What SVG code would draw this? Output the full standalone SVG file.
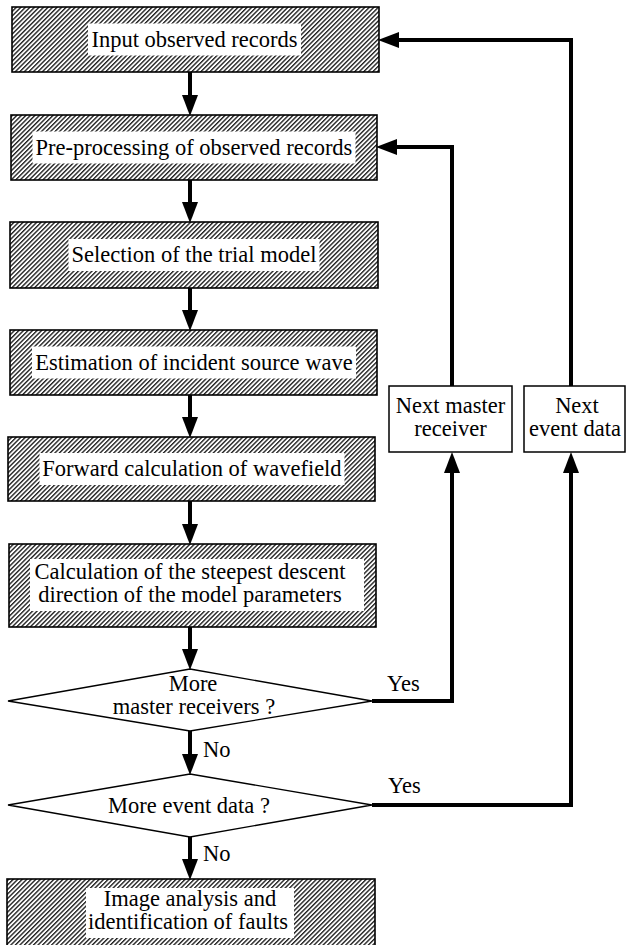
<svg xmlns="http://www.w3.org/2000/svg" width="626" height="945" viewBox="0 0 626 945">
<style>
  .box { fill: url(#hatch); stroke: #000; stroke-width: 1.6; }
  .plain { fill: #fff; stroke: #000; stroke-width: 1.5; }
  .dia { fill: #fff; stroke: #000; stroke-width: 1.3; }
  .bg { fill: #fff; }
  text { font-family: "Liberation Serif", "Times New Roman", serif; font-size: 22.5px; fill: #000; }
  .c { text-anchor: middle; }
  .conn { fill: none; stroke: #000; stroke-width: 4; stroke-linejoin: miter; }
  .arr { marker-end: url(#head); }
</style>
<defs>
  <pattern id="hatch" patternUnits="userSpaceOnUse" width="3.2" height="3.2" patternTransform="rotate(45)">
    <rect width="3.2" height="3.2" fill="#fff"/>
    <line x1="0.7" y1="0" x2="0.7" y2="3.2" stroke="#111" stroke-width="1.3"/>
  </pattern>
  <marker id="head" markerUnits="userSpaceOnUse" markerWidth="22" markerHeight="16" refX="10" refY="8" orient="auto" viewBox="0 0 22 16">
    <path d="M0,0 L21,8 L0,16 z" fill="#000"/>
  </marker>
</defs>

<g id="n1">
  <rect class="box" x="12" y="7" width="367" height="65"/>
  <rect class="bg" x="88" y="23.5" width="213" height="32"/>
  <text class="c" x="194.5" y="47">Input observed records</text>
</g>
<g id="n2">
  <rect class="box" x="11" y="115" width="366" height="65"/>
  <rect class="bg" x="32.5" y="131.5" width="323" height="32"/>
  <text class="c" x="194" y="155">Pre-processing of observed records</text>
</g>
<g id="n3">
  <rect class="box" x="10" y="222" width="368" height="66"/>
  <rect class="bg" x="68.5" y="239" width="251" height="32"/>
  <text class="c" x="194" y="262">Selection of the trial model</text>
</g>
<g id="n4">
  <rect class="box" x="10" y="330" width="367" height="65"/>
  <rect class="bg" x="32" y="346.5" width="324" height="32"/>
  <text class="c" x="194" y="370">Estimation of incident source wave</text>
</g>
<g id="n5">
  <rect class="box" x="8" y="437" width="367" height="64"/>
  <rect class="bg" x="39.5" y="453" width="305" height="32"/>
  <text class="c" x="192" y="476">Forward calculation of wavefield</text>
</g>
<g id="n6">
  <rect class="box" x="9" y="544" width="367" height="83"/>
  <rect class="bg" x="30" y="559" width="334" height="52"/>
  <text class="c" x="190" y="579">Calculation of the steepest descent</text>
  <text class="c" x="190" y="602">direction of the model parameters</text>
</g>
<g id="d1">
  <polygon class="dia" points="190,669 372,701 190,731 8,701"/>
  <text class="c" x="193" y="691">More</text>
  <text class="c" x="194" y="714">master receivers ?</text>
</g>
<g id="d2">
  <polygon class="dia" points="190,774 372,805 190,837 8,805"/>
  <text class="c" x="189" y="813">More event data ?</text>
</g>
<g id="n7">
  <rect class="box" x="7" y="879" width="368" height="70"/>
  <rect class="bg" x="86" y="888" width="208" height="50"/>
  <text class="c" x="190" y="906">Image analysis and</text>
  <text class="c" x="188" y="929">identification of faults</text>
</g>
<g id="r1">
  <rect class="plain" x="389" y="386" width="123" height="66"/>
  <text class="c" x="450.5" y="413">Next master</text>
  <text class="c" x="450.5" y="436">receiver</text>
</g>
<g id="r2">
  <rect class="plain" x="524" y="386" width="101" height="66"/>
  <text class="c" x="577" y="413">Next</text>
  <text class="c" x="575" y="436">event data</text>
</g>

<g id="connectors">
  <path class="conn arr" d="M190,72 V105"/>
  <path class="conn arr" d="M190,180 V212"/>
  <path class="conn arr" d="M190,288 V320"/>
  <path class="conn arr" d="M190,395 V427"/>
  <path class="conn arr" d="M190,501 V534"/>
  <path class="conn arr" d="M190,627 V659"/>
  <path class="conn arr" d="M190,731 V764"/>
  <path class="conn arr" d="M190,837 V869"/>
  <path class="conn arr" d="M372,701 H452 V463"/>
  <path class="conn arr" d="M452,386 V147 H387"/>
  <path class="conn arr" d="M372,805 H571 V463"/>
  <path class="conn arr" d="M571,386 V40 H389"/>
  <text x="387" y="691">Yes</text>
  <text x="388" y="793">Yes</text>
  <text x="203" y="757">No</text>
  <text x="203" y="861">No</text>
</g>
</svg>
